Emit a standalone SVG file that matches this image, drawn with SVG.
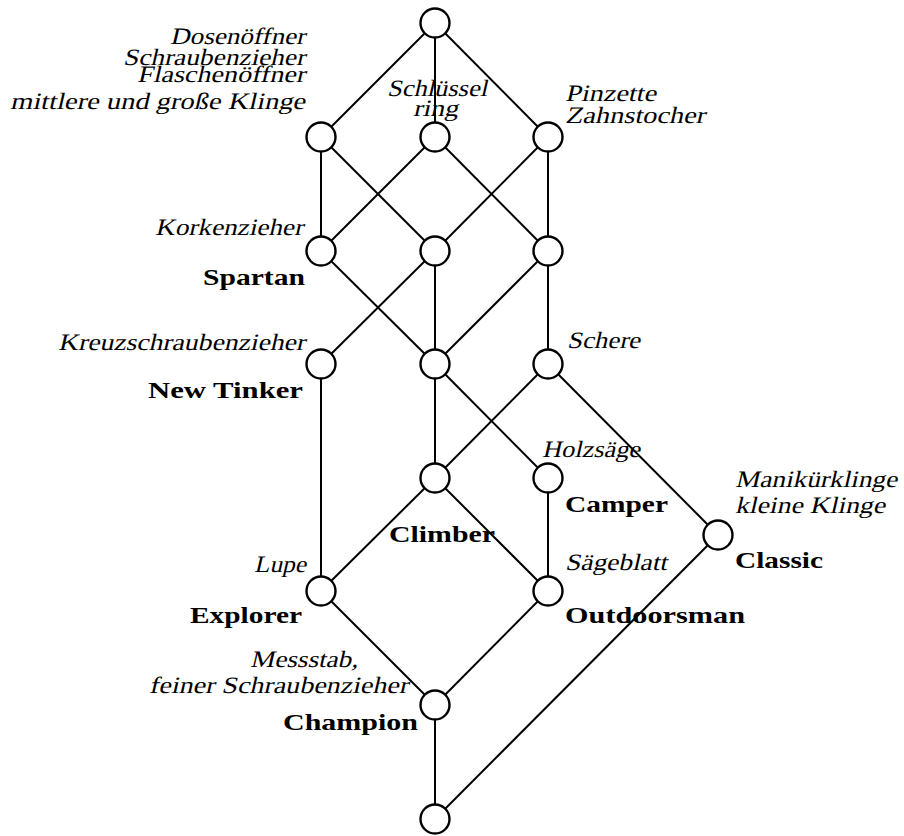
<svg xmlns="http://www.w3.org/2000/svg" width="904" height="836" viewBox="0 0 904 836">
<style>
.e{stroke:#000;stroke-width:2;fill:none}
.n{fill:#fff;stroke:#000;stroke-width:2.4}
.a{font-family:"Liberation Serif","DejaVu Serif",serif;font-size:23.5px;fill:#000}
.o{font-family:"Liberation Serif","DejaVu Serif",serif;font-weight:bold;font-size:23px;fill:#000}
.r{text-anchor:end}
</style>
<rect width="904" height="836" fill="#fff"/>
<g id="connectors">
<line class="e" x1="435" y1="23" x2="321" y2="137"/>
<line class="e" x1="435" y1="23" x2="435" y2="137"/>
<line class="e" x1="435" y1="23" x2="548" y2="137"/>
<line class="e" x1="321" y1="137" x2="321" y2="251"/>
<line class="e" x1="321" y1="137" x2="435" y2="251"/>
<line class="e" x1="435" y1="137" x2="321" y2="251"/>
<line class="e" x1="435" y1="137" x2="548" y2="251"/>
<line class="e" x1="548" y1="137" x2="435" y2="251"/>
<line class="e" x1="548" y1="137" x2="548" y2="251"/>
<line class="e" x1="321" y1="251" x2="435" y2="364"/>
<line class="e" x1="435" y1="251" x2="321" y2="364"/>
<line class="e" x1="435" y1="251" x2="435" y2="364"/>
<line class="e" x1="548" y1="251" x2="435" y2="364"/>
<line class="e" x1="548" y1="251" x2="548" y2="364"/>
<line class="e" x1="321" y1="364" x2="321" y2="591"/>
<line class="e" x1="435" y1="364" x2="435" y2="478"/>
<line class="e" x1="435" y1="364" x2="548" y2="478"/>
<line class="e" x1="548" y1="364" x2="435" y2="478"/>
<line class="e" x1="548" y1="364" x2="718" y2="535"/>
<line class="e" x1="435" y1="478" x2="321" y2="591"/>
<line class="e" x1="435" y1="478" x2="548" y2="591"/>
<line class="e" x1="548" y1="478" x2="548" y2="591"/>
<line class="e" x1="321" y1="591" x2="435" y2="705"/>
<line class="e" x1="548" y1="591" x2="435" y2="705"/>
<line class="e" x1="435" y1="705" x2="435" y2="819"/>
<line class="e" x1="718" y1="535" x2="435" y2="819"/>
</g>
<g id="top"><circle class="n" cx="435" cy="23" r="14.5"/></g>
<g id="n_a"><circle class="n" cx="321" cy="137" r="14.5"/>
<text class="a r" transform="translate(305,44) skewX(-13)" textLength="135" lengthAdjust="spacingAndGlyphs">Dosenöffner</text>
<text class="a r" transform="translate(305,65) skewX(-13)" textLength="182" lengthAdjust="spacingAndGlyphs">Schraubenzieher</text>
<text class="a r" transform="translate(305,82) skewX(-13)" textLength="168" lengthAdjust="spacingAndGlyphs">Flaschenöffner</text>
<text class="a r" transform="translate(305,109) skewX(-13)" textLength="295" lengthAdjust="spacingAndGlyphs">mittlere und große Klinge</text>
</g>
<g id="n_b"><circle class="n" cx="435" cy="137" r="14.5"/>
<text class="a" transform="translate(387,96) skewX(-13)" textLength="100" lengthAdjust="spacingAndGlyphs">Schlüssel</text>
<text class="a" transform="translate(413,116) skewX(-13)" textLength="45" lengthAdjust="spacingAndGlyphs">ring</text>
</g>
<g id="n_c"><circle class="n" cx="548" cy="137" r="14.5"/>
<text class="a" transform="translate(565,101) skewX(-13)" textLength="91" lengthAdjust="spacingAndGlyphs">Pinzette</text>
<text class="a" transform="translate(565,123) skewX(-13)" textLength="140" lengthAdjust="spacingAndGlyphs">Zahnstocher</text>
</g>
<g id="spartan"><circle class="n" cx="321" cy="251" r="14.5"/>
<text class="a r" transform="translate(303,235) skewX(-13)" textLength="148" lengthAdjust="spacingAndGlyphs">Korkenzieher</text>
<text class="o r" x="305" y="285" textLength="102" lengthAdjust="spacingAndGlyphs">Spartan</text>
</g>
<g id="n_e"><circle class="n" cx="435" cy="251" r="14.5"/></g>
<g id="n_f"><circle class="n" cx="548" cy="251" r="14.5"/></g>
<g id="newtinker"><circle class="n" cx="321" cy="364" r="14.5"/>
<text class="a r" transform="translate(305,350) skewX(-13)" textLength="247" lengthAdjust="spacingAndGlyphs">Kreuzschraubenzieher</text>
<text class="o r" x="303" y="398" textLength="155" lengthAdjust="spacingAndGlyphs">New Tinker</text>
</g>
<g id="n_h"><circle class="n" cx="435" cy="364" r="14.5"/></g>
<g id="n_i"><circle class="n" cx="548" cy="364" r="14.5"/>
<text class="a" transform="translate(567,348) skewX(-13)" textLength="73" lengthAdjust="spacingAndGlyphs">Schere</text>
</g>
<g id="climber"><circle class="n" cx="435" cy="478" r="14.5"/>
<text class="o" x="389" y="542" textLength="106" lengthAdjust="spacingAndGlyphs">Climber</text>
</g>
<g id="camper"><circle class="n" cx="548" cy="478" r="14.5"/>
<text class="a" transform="translate(542,457) skewX(-13)" textLength="98" lengthAdjust="spacingAndGlyphs">Holzsäge</text>
<text class="o" x="565" y="512" textLength="103" lengthAdjust="spacingAndGlyphs">Camper</text>
</g>
<g id="classic"><circle class="n" cx="718" cy="535" r="14.5"/>
<text class="a" transform="translate(735,487) skewX(-13)" textLength="162" lengthAdjust="spacingAndGlyphs">Manikürklinge</text>
<text class="a" transform="translate(735,513) skewX(-13)" textLength="150" lengthAdjust="spacingAndGlyphs">kleine Klinge</text>
<text class="o" x="735" y="568" textLength="88" lengthAdjust="spacingAndGlyphs">Classic</text>
</g>
<g id="explorer"><circle class="n" cx="321" cy="591" r="14.5"/>
<text class="a r" transform="translate(306,572) skewX(-13)" textLength="52" lengthAdjust="spacingAndGlyphs">Lupe</text>
<text class="o r" x="302" y="623" textLength="112" lengthAdjust="spacingAndGlyphs">Explorer</text>
</g>
<g id="outdoorsman"><circle class="n" cx="548" cy="591" r="14.5"/>
<text class="a" transform="translate(565,570) skewX(-13)" textLength="102" lengthAdjust="spacingAndGlyphs">Sägeblatt</text>
<text class="o" x="565" y="623" textLength="180" lengthAdjust="spacingAndGlyphs">Outdoorsman</text>
</g>
<g id="champion"><circle class="n" cx="435" cy="705" r="14.5"/>
<text class="a r" transform="translate(358,667) skewX(-13)" textLength="108" lengthAdjust="spacingAndGlyphs">Messstab,</text>
<text class="a r" transform="translate(408,693) skewX(-13)" textLength="259" lengthAdjust="spacingAndGlyphs">feiner Schraubenzieher</text>
<text class="o r" x="418" y="730" textLength="135" lengthAdjust="spacingAndGlyphs">Champion</text>
</g>
<g id="bottom"><circle class="n" cx="435" cy="819" r="14.5"/></g>
</svg>
